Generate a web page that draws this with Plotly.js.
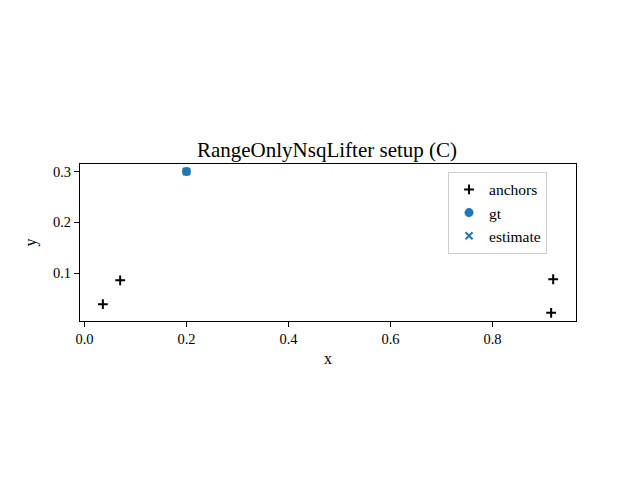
<!DOCTYPE html>
<html>
<head>
<meta charset="utf-8">
<script src="https://cdn.plot.ly/plotly-3.0.1.min.js"></script>
<style>html,body{margin:0;padding:0;background:#fff;}#chart{width:640px;height:480px;}</style>
</head>
<body>
<div id="chart"></div>
<script>
// data
const anchorsX = [0.036, 0.070, 0.919, 0.915];
const anchorsY = [0.039, 0.086, 0.088, 0.022];
const gtX = [0.2];
const gtY = [0.3];
const estX = [0.2];
const estY = [0.3];
const xTicks = [0.0, 0.2, 0.4, 0.6, 0.8];
const yTicks = [0.1, 0.2, 0.3];

const FONT = "Liberation Serif, DejaVu Serif, serif";
const blue = "#1f77b4";

const traces = [
  {x: anchorsX, y: anchorsY, mode: "markers", type: "scatter", name: "anchors",
   marker: {symbol: "cross-thin", size: 7, color: "black", line: {color: "black", width: 2}}},
  {x: gtX, y: gtY, mode: "markers", type: "scatter", name: "gt",
   marker: {symbol: "circle", size: 9, color: blue}},
  {x: estX, y: estY, mode: "markers", type: "scatter", name: "estimate",
   marker: {symbol: "x-thin", size: 7, color: blue, line: {color: blue, width: 2}}}
];

const axisCommon = {
  showgrid: false, zeroline: false, showline: true, mirror: true,
  linecolor: "black", linewidth: 1, ticks: "outside", ticklen: 5, tickwidth: 1,
  tickcolor: "black", tickformat: ".1f", tickfont: {family: FONT, size: 14.5, color: "black"}
};

const layout = {
  width: 640, height: 480,
  margin: {l: 80, r: 64, t: 164, b: 159},
  paper_bgcolor: "white", plot_bgcolor: "white",
  font: {family: FONT, color: "black"},
  title: {text: "RangeOnlyNsqLifter setup (C)", font: {family: FONT, size: 21, color: "black"},
          x: 0.511, xanchor: "center", y: 1 - 150/480, yanchor: "middle"},
  xaxis: Object.assign({}, axisCommon, {
    range: [-0.0088, 0.9637], tickvals: xTicks,
    title: {text: "x", font: {family: FONT, size: 16}, standoff: 6}
  }),
  yaxis: Object.assign({}, axisCommon, {
    range: [0.0059, 0.3147], tickvals: yTicks,
    title: {text: "y", font: {family: FONT, size: 16}, standoff: 12}
  }),
  showlegend: true,
  legend: {x: 0.742, y: 0.95, xanchor: "left", yanchor: "top",
           bgcolor: "rgba(255,255,255,0.8)", bordercolor: "#cccccc", borderwidth: 1,
           font: {family: FONT, size: 15.5, color: "black"}, itemwidth: 30, tracegroupgap: 0}
};

Plotly.newPlot("chart", traces, layout, {displayModeBar: false, staticPlot: true});
</script>
</body>
</html>
